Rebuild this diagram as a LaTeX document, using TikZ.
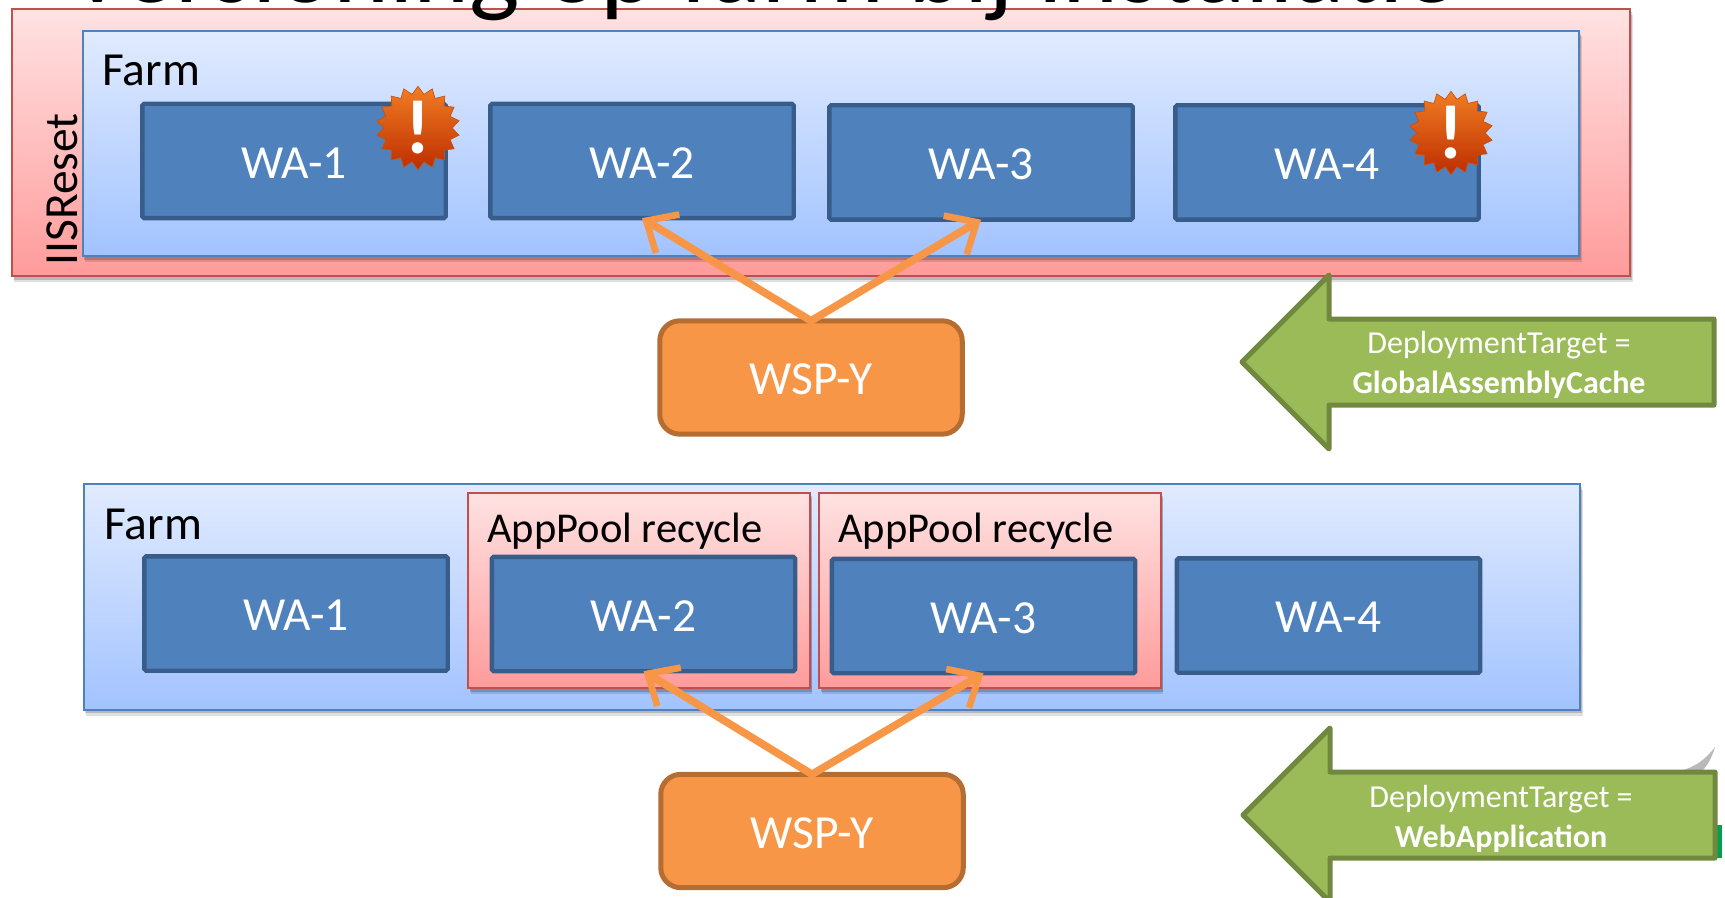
\documentclass[tikz,border=0pt]{standalone}
\usepackage{fontspec}
\setmainfont{Carlito}
\usepackage{tikz}
\usetikzlibrary{arrows.meta}
\usetikzlibrary{shadows}
\usetikzlibrary{shapes.geometric}
\definecolor{waFill}{HTML}{4F81BD}
\definecolor{waLine}{HTML}{385D8A}
\definecolor{wspFill}{HTML}{F79646}
\definecolor{wspLine}{HTML}{B66D31}
\definecolor{greenFill}{HTML}{9BBB59}
\definecolor{greenLine}{HTML}{71893F}
\definecolor{redLine}{HTML}{C0504D}
\definecolor{redTop}{HTML}{FFE2E2}
\definecolor{redLow}{HTML}{FF9B9B}
\definecolor{farmTop}{HTML}{E1EBFF}
\definecolor{farmLow}{HTML}{A2C3FF}
\definecolor{burstTop}{HTML}{F07D23}
\definecolor{burstLow}{HTML}{BE2D00}
\definecolor{burstLine}{HTML}{CD500A}
\definecolor{edgeGreen}{HTML}{00A050}
\tikzset{
  softshadow/.style={drop shadow={shadow xshift=1.5pt,shadow yshift=-3.5pt,fill=black,opacity=0.12},drop shadow={shadow xshift=1pt,shadow yshift=-2pt,fill=black,opacity=0.18}},
  redbox/.style={draw=redLine,line width=1.2pt,top color=redTop,bottom color=redLow,outer sep=0pt,softshadow},
  farmbox/.style={draw=waFill,line width=1.2pt,top color=farmTop,bottom color=farmLow,outer sep=0pt,minimum width=898pt,minimum height=135.5pt,softshadow},
  wabox/.style={draw=waLine,fill=waFill,line width=2.6pt,rounded corners=1pt,outer sep=0pt,text=white,text height=20.5pt,text depth=0pt,font=\fontsize{28.5}{34}\selectfont,minimum width=182pt,minimum height=68.6pt},
  wspbox/.style={draw=wspLine,fill=wspFill,line width=3pt,rounded corners=12pt,outer sep=0pt,text=white,text height=20.5pt,text depth=0pt,font=\fontsize{28.5}{34}\selectfont,minimum width=181.5pt,minimum height=68pt},
  deploy/.style={draw=wspFill,line width=4.6pt,line cap=round,-{Straight Barb[length=15pt,width=27pt,line width=4pt]}},
  greenarrow/.style={draw=greenLine,fill=greenFill,line width=3pt,line join=round},
  targettext/.style={text=white,align=center,font=\fontsize{19.2}{24}\selectfont},
  boxlabel/.style={anchor=base west,inner sep=0pt,font=\fontsize{28.5}{34}\selectfont},
  poollabel/.style={anchor=base west,inner sep=0pt,font=\fontsize{25.5}{30}\selectfont},
  burst/.style={star,star points=18,star point ratio=1.22,minimum size=50pt,inner sep=0pt,top color=burstTop,bottom color=burstLow,draw=burstLine,line width=0.4pt},
  bang/.style={text=white,inner sep=0pt,font=\fontsize{46}{46}\selectfont\bfseries}
}
\begin{document}
\begin{tikzpicture}[x=0.6pt,y=-0.6pt]
\useasboundingbox (0,0) rectangle (1725,898);
\clip (0,0) rectangle (1725,898);

% bovenste farm
\node[redbox,minimum width=971pt,minimum height=160.5pt] (iisreset) at (821,142.5) {};
\node[farmbox] (farmtop) at (831,143.5) {};
\node[boxlabel] (farmtoplabel) at (102,86) {Farm};
\node[boxlabel,rotate=90] (iislabel) at (77,266) {IISReset};
\node[wabox] (watopa) at (294,161) {WA-1};
\node[wabox] (watopb) at (642,161) {WA-2};
\node[wabox] (watopc) at (981,162.5) {WA-3};
\node[wabox] (watopd) at (1327,162.5) {WA-4};
\node[burst] (bursta) at (418,128) {};
\node[bang] (banga) at (418,128) {!};
\node[burst] (burstb) at (1451,133) {};
\node[bang] (bangb) at (1451,133) {!};

\node[wspbox] (wsptop) at (811,377.5) {WSP-Y};
\draw[deploy] (wsptop.north) -- (watopb.south);
\draw[deploy] (wsptop.north) -- (watopc.south);

\draw[greenarrow] (1242,362) -- (1329,275) -- (1329,319) -- (1714,319) -- (1714,405) -- (1329,405) -- (1329,449) -- cycle;
\node[targettext] (targettop) at (1499,365) {DeploymentTarget =\\\textbf{GlobalAssemblyCache}};

% onderste farm
\node[farmbox] (farmlow) at (832,597) {};
\node[boxlabel] (farmlowlabel) at (104,539) {Farm};
\node[redbox,minimum width=205pt,minimum height=117.5pt] (poola) at (639,590.5) {};
\node[redbox,minimum width=205pt,minimum height=117.5pt] (poolb) at (990,590.5) {};
\node[poollabel] (poolalabel) at (487,542.5) {AppPool recycle};
\node[poollabel] (poolblabel) at (838,542.5) {AppPool recycle};
\node[wabox] (walowa) at (296,613.5) {WA-1};
\node[wabox] (walowb) at (643.5,614) {WA-2};
\node[wabox] (walowc) at (983.5,616) {WA-3};
\node[wabox] (walowd) at (1328.5,615.5) {WA-4};

\node[wspbox] (wsplow) at (812,831) {WSP-Y};
\draw[deploy] (wsplow.north) -- (walowb.south);
\draw[deploy] (wsplow.north) -- (walowc.south);

\fill[gray!55] (1715,747) .. controls (1705,760) and (1695,767) .. (1680,771) -- (1702,771) .. controls (1708,765) and (1712,757) .. cycle;
\fill[edgeGreen] (1716,825) rectangle (1722,858);
\draw[greenarrow] (1243,815) -- (1330,728) -- (1330,772) -- (1715,772) -- (1715,858) -- (1330,858) -- (1330,902) -- cycle;
\node[targettext] (targetlow) at (1501,818.5) {DeploymentTarget =\\\textbf{WebApplication}};

% titel
\node[anchor=base west,inner sep=0pt,font=\fontsize{64}{72}\selectfont] (title) at (67,3) {Versioning op farm bij installatie};
\end{tikzpicture}
\end{document}
